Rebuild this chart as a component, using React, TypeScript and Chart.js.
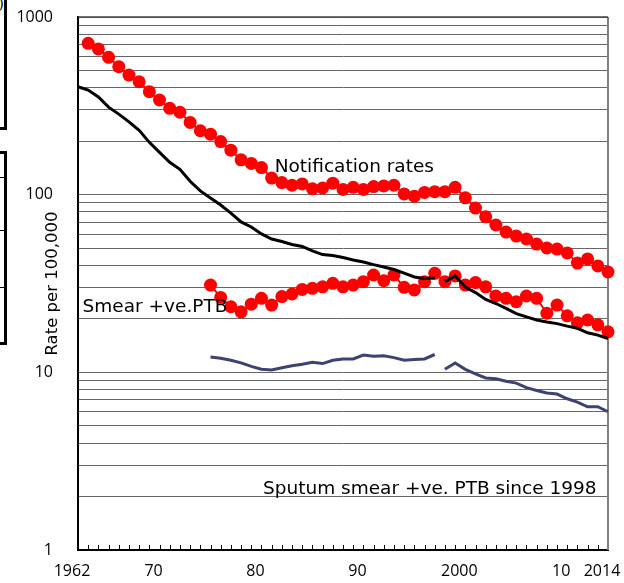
import React, { useEffect, useRef } from "react";
import { Chart, registerables } from "chart.js";

Chart.register(...registerables);

// ---------- data (rates per 100,000) ----------
const notificationStartYear = 1963;
const notificationRates = [
  711, 661, 593, 525, 471, 432, 380, 341, 306, 291, 255, 229, 219, 199, 178, 157, 150, 142, 124, 117,
  113, 115, 108, 109, 116, 107, 110, 107, 111, 112, 113, 101, 98, 103, 104, 104, 110, 96, 84, 75,
  67.5, 61.6, 58.5, 56.3, 52.7, 50.1, 49.4, 47.0, 41.2, 43.5, 39.7, 36.7,
];

const smearStartYear = 1975;
const smearRates = [
  31.0, 26.4, 23.4, 21.9, 24.2, 26.1, 23.9, 26.7, 27.6, 29.3, 29.7, 30.3, 31.7, 30.3, 31.0, 32.4,
  35.3, 32.8, 35.3, 30.1, 29.1, 32.4, 36.1, 32.4, 34.9, 31.0, 32.0, 30.3, 26.9, 26.1, 25.0, 26.9,
  26.1, 21.5, 23.9, 20.8, 19.0, 19.7, 18.5, 16.9,
];

const japanStartYear = 1962;
const japanRates = [
  405, 388, 355, 311, 284, 257, 230, 197, 173, 152, 139, 119, 105, 95.8, 87.5, 78.8, 70.2, 65.8,
  60.1, 56.3, 54.5, 52.4, 51.1, 48.2, 46.0, 45.4, 44.3, 42.9, 41.8, 40.4, 39.2, 37.9, 36.2, 34.4,
  33.7, 34.0,
];
const japanNewStartYear = 1998;
const japanNewRates = [
  32.4, 34.9, 30.2, 28.1, 25.7, 24.4, 22.9, 21.4, 20.5, 19.7, 19.2, 18.8, 18.2, 17.7, 16.7, 16.2, 15.5,
];

const sputumOldStartYear = 1975;
const sputumOldRates = [
  12.2, 12.0, 11.7, 11.3, 10.8, 10.4, 10.3, 10.6, 10.9, 11.1, 11.4, 11.2, 11.7, 11.9, 11.9, 12.5,
  12.3, 12.4, 12.1, 11.7, 11.8, 11.9, 12.6,
];
const sputumNewStartYear = 1998;
const sputumNewRates = [
  10.4, 11.3, 10.4, 9.8, 9.3, 9.2, 8.9, 8.7, 8.2, 7.9, 7.65, 7.55, 7.1, 6.8, 6.4, 6.4, 6.0,
];

const xMinYear = 1962;
const xMaxYear = 2014;
const xTickYears = [1962, 1970, 1980, 1990, 2000, 2010, 2014];
const xTickLabels = ["1962", "70", "80", "90", "2000", "10", "2014"];
const yMin = 1;
const yMax = 1000;
const yTickValues = [1, 10, 100, 1000];
const yTickLabels = ["1", "10", "100", "1000"];
const yAxisTitle = "Rate per 100,000";

const annotations = [
  { text: "Notification rates", year: 1981.3, value: 134 },
  { text: "Smear +ve.PTB", year: 1962.45, value: 21.9 },
  { text: "Sputum smear +ve. PTB since 1998", year: 1980.15, value: 2.07 },
];

// ---------- helpers ----------
const toPoints = (start: number, values: number[]) =>
  values.map((y, i) => ({ x: start + i, y }));

const buildLogTicks = (min: number, max: number) => {
  const ticks: { value: number }[] = [];
  for (let d = min; d < max; d *= 10) {
    for (let k = 1; k < 10; k++) ticks.push({ value: k * d });
  }
  ticks.push({ value: max });
  return ticks;
};

const tickFont = { family: "'Open Sans', sans-serif", size: 16 };
const textFont = "'DejaVu Sans', sans-serif";

const decorPlugin = {
  id: "decor",
  beforeDatasetsDraw(chart: any) {
    const { ctx, chartArea, scales } = chart;
    const x = scales.x;
    ctx.save();
    // right border
    ctx.strokeStyle = "#808080";
    ctx.lineWidth = 2;
    ctx.beginPath();
    ctx.moveTo(chartArea.right, chartArea.top);
    ctx.lineTo(chartArea.right, chartArea.bottom);
    ctx.stroke();
    // top border
    ctx.strokeStyle = "#444";
    ctx.lineWidth = 1.5;
    ctx.beginPath();
    ctx.moveTo(chartArea.left, chartArea.top);
    ctx.lineTo(chartArea.right, chartArea.top);
    ctx.stroke();
    // yearly minor ticks (inside)
    ctx.strokeStyle = "#000";
    ctx.lineWidth = 1;
    ctx.beginPath();
    for (let yr = xMinYear + 1; yr < xMaxYear; yr++) {
      const px = Math.round(x.getPixelForValue(yr)) + 0.5;
      ctx.moveTo(px, chartArea.bottom);
      ctx.lineTo(px, chartArea.bottom - 5);
    }
    ctx.stroke();
    ctx.restore();
  },
  afterDatasetsDraw(chart: any) {
    const { ctx, scales } = chart;
    ctx.save();
    ctx.fillStyle = "#000";
    ctx.font = `18.5px ${textFont}`;
    ctx.textAlign = "left";
    ctx.textBaseline = "alphabetic";
    for (const a of annotations) {
      ctx.fillText(a.text, scales.x.getPixelForValue(a.year), scales.y.getPixelForValue(a.value));
    }
    ctx.restore();
  },
};

export default function App() {
  const canvasRef = useRef<HTMLCanvasElement | null>(null);

  useEffect(() => {
    if (!canvasRef.current) return;
    const black = "#000000";
    const navy = "#3d4272";
    const red = "#ff0000";
    const lineDs = (data: any[], color: string) => ({
      data,
      borderColor: color,
      backgroundColor: color,
      borderWidth: 3,
      pointRadius: 0,
      tension: 0,
      clip: false as any,
    });
    const dotDs = (data: any[]) => ({
      data,
      borderColor: red,
      backgroundColor: red,
      borderWidth: 2,
      pointRadius: 6.5,
      pointBorderWidth: 0,
      pointHoverRadius: 6.5,
      tension: 0,
      clip: false as any,
    });

    const chart = new Chart(canvasRef.current, {
      type: "line",
      data: {
        datasets: [
          lineDs(toPoints(japanStartYear, japanRates), black),
          lineDs(toPoints(japanNewStartYear, japanNewRates), black),
          dotDs(toPoints(notificationStartYear, notificationRates)),
          dotDs(toPoints(smearStartYear, smearRates)),
          lineDs(toPoints(sputumOldStartYear, sputumOldRates), navy),
          lineDs(toPoints(sputumNewStartYear, sputumNewRates), navy),
        ],
      },
      options: {
        animation: false,
        responsive: true,
        maintainAspectRatio: false,
        layout: { padding: { top: 17, right: 16, left: 0, bottom: 0 } },
        plugins: { legend: { display: false }, tooltip: { enabled: false } },
        events: [],
        scales: {
          x: {
            type: "linear",
            min: xMinYear,
            max: xMaxYear,
            grid: { drawOnChartArea: false, drawTicks: false },
            border: { display: true, color: "#000", width: 2 },
            afterBuildTicks: (scale: any) => {
              scale.ticks = xTickYears.map((v) => ({ value: v }));
            },
            afterFit: (scale: any) => {
              scale.height = 33;
              scale.paddingLeft = 0;
              scale.paddingRight = 0;
            },
            ticks: {
              autoSkip: false,
              maxRotation: 0,
              minRotation: 0,
              padding: 12,
              labelOffset: -6,
              color: "#000",
              font: tickFont,
              callback: (v: any) => {
                const i = xTickYears.indexOf(Number(v));
                return i >= 0 ? xTickLabels[i] : "";
              },
            },
          },
          y: {
            type: "logarithmic",
            min: yMin,
            max: yMax,
            grid: { color: "#666", lineWidth: 1, drawTicks: false },
            border: { display: true, color: "#000", width: 2 },
            afterBuildTicks: (scale: any) => {
              scale.ticks = buildLogTicks(yMin, yMax);
            },
            afterFit: (scale: any) => {
              scale.width = 78;
              scale.paddingTop = 0;
              scale.paddingBottom = 0;
            },
            title: {
              display: true,
              text: yAxisTitle,
              color: "#000",
              font: { family: textFont, size: 16.5 },
              padding: { top: 43, bottom: 0 },
            },
            ticks: {
              autoSkip: false,
              padding: 25,
              color: "#000",
              font: tickFont,
              callback: (v: any) => {
                const i = yTickValues.indexOf(Number(v));
                return i >= 0 ? yTickLabels[i] : "";
              },
            },
          },
        },
      },
      plugins: [decorPlugin],
    });
    return () => chart.destroy();
  }, []);

  const boxStyle: React.CSSProperties = {
    position: "absolute",
    left: -20,
    width: 27,
    boxSizing: "border-box",
    border: "3px solid #000",
    background: "#fff",
    zIndex: 2,
  };

  return (
    <div style={{ position: "absolute", left: 0, top: 0, width: 624, height: 583, background: "#fff", overflow: "hidden" }}>
      <canvas ref={canvasRef} />
      <div style={{ ...boxStyle, top: -20, height: 150 }}>
        <span style={{ position: "absolute", right: 0, top: 14, fontFamily: "'DejaVu Sans', sans-serif", fontSize: 14, lineHeight: "14px" }}>)</span>
      </div>
      <div style={{ ...boxStyle, top: 151, height: 194 }}>
        <div style={{ position: "absolute", left: 0, right: 0, top: 23, borderTop: "1.5px solid #000" }} />
        <div style={{ position: "absolute", left: 0, right: 0, top: 76, borderTop: "1.5px solid #000" }} />
        <div style={{ position: "absolute", left: 0, right: 0, top: 133, borderTop: "1.5px solid #000" }} />
      </div>
    </div>
  );
}
